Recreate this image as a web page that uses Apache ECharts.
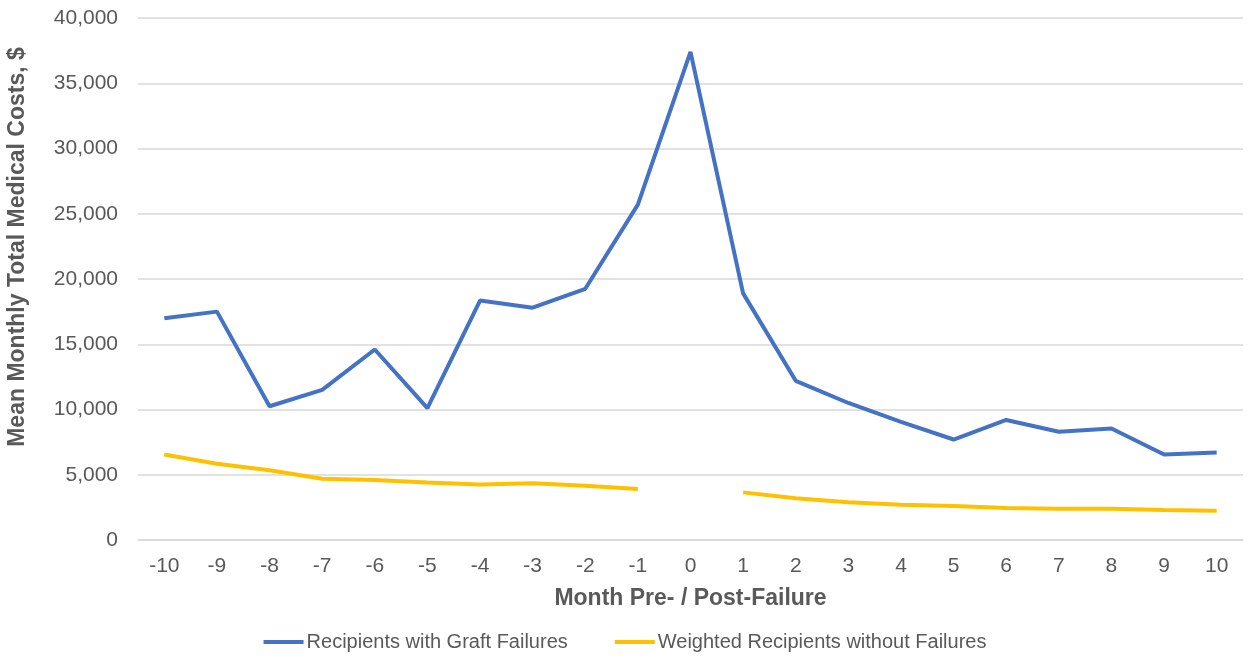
<!DOCTYPE html>
<html>
<head>
<meta charset="utf-8">
<script src="https://cdn.jsdelivr.net/npm/echarts@6/dist/echarts.min.js"></script>
<style>
html,body{margin:0;padding:0;background:#fff;}
#chart{width:1250px;height:661px;}
</style>
</head>
<body>
<div id="chart"></div>
<script>
// 月份（失败前/后）
var months = ['-10','-9','-8','-7','-6','-5','-4','-3','-2','-1','0','1','2','3','4','5','6','7','8','9','10'];
var graftFailures = [17000,17500,10250,11500,14600,10100,18350,17800,19250,25700,37400,18900,12200,10500,9050,7700,9200,8300,8550,6550,6700];
var noFailures = [6550,5850,5350,4700,4600,4400,4250,4350,4150,3900,null,3650,3200,2900,2700,2600,2450,2400,2400,2300,2250];

var myChar = echarts.init(document.getElementById('chart'));
var option = {
	backgroundColor: '#fff',
	textStyle: { fontFamily: 'Liberation Sans, Arial, sans-serif' },
	grid: { left: 138, right: 7, top: 18, bottom: 121, outerBoundsMode: 'none', containLabel: false },
	graphic: [
		{
			// y轴标题
			type: 'text',
			x: 18,
			y: 247,
			rotation: Math.PI / 2,
			style: {
				text: 'Mean Monthly Total Medical Costs, $',
				fill: '#595959',
				font: 'bold 23px "Liberation Sans", Arial, sans-serif',
				textAlign: 'center',
				textVerticalAlign: 'middle'
			}
		}
	],
	legend: {
		bottom: 4,
		left: 'center',
		itemWidth: 40,
		itemHeight: 4,
		itemGap: 47,
		icon: 'rect',
		textStyle: { color: '#595959', fontSize: 20, padding: [0, 0, 0, -2] },
		data: ['Recipients with Graft Failures', 'Weighted Recipients without Failures']
	},
	xAxis: {
		type: 'category',
		data: months,
		name: 'Month Pre- / Post-Failure',
		nameLocation: 'middle',
		nameGap: 47,
		nameTextStyle: { color: '#595959', fontSize: 23, fontWeight: 'bold' },
		axisLine: { lineStyle: { color: '#d9d9d9', width: 1.5 } },
		axisTick: { show: false },
		axisLabel: { color: '#595959', fontSize: 21, margin: 16 }
	},
	yAxis: {
		type: 'value',
		min: 0,
		max: 40000,
		interval: 5000,
		axisLine: { show: false },
		axisTick: { show: false },
		splitLine: { lineStyle: { color: '#d9d9d9', width: 1.5 } },
		axisLabel: {
			color: '#595959',
			fontSize: 21,
			margin: 20,
			formatter: function (v) { return v.toLocaleString('en-US'); }
		}
	},
	series: [
		{
			name: 'Recipients with Graft Failures',
			type: 'line',
			data: graftFailures,
			symbol: 'none',
			color: '#4472c4',
			lineStyle: { width: 4, color: '#4472c4' }
		},
		{
			name: 'Weighted Recipients without Failures',
			type: 'line',
			data: noFailures,
			symbol: 'none',
			connectNulls: false,
			color: '#ffc000',
			lineStyle: { width: 4, color: '#ffc000' }
		}
	]
};
myChar.setOption(option);
</script>
</body>
</html>
